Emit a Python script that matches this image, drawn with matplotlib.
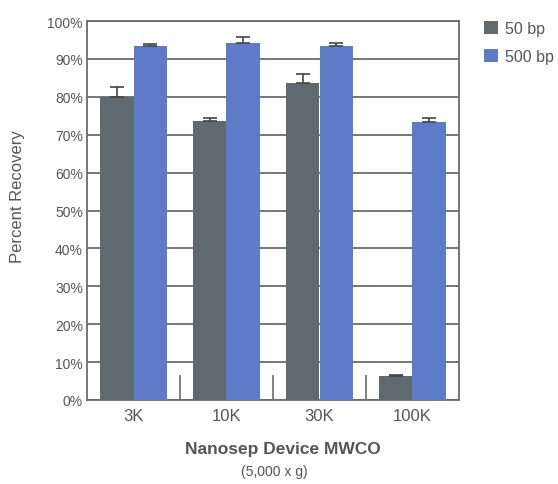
import numpy as np
import matplotlib
matplotlib.use("Agg")
import matplotlib.pyplot as plt
from matplotlib.ticker import FixedLocator, PercentFormatter

plt.rcParams['font.family'] = ['Liberation Sans', 'DejaVu Sans']

# data
categories = ['3K', '10K', '30K', '100K']
rec_50 = [80.0, 73.5, 83.6, 6.4]
err_50 = [2.5, 1.0, 2.5, 0.3]
rec_500 = [93.3, 94.3, 93.3, 73.4]
err_500 = [0.5, 1.5, 1.0, 1.1]
series_names = ['50 bp', '500 bp']

c_dark = '#5e6a6d'
c_blue = '#5d7bc6'
txt = '#555555'
line_c = '#6b6b6b'

fig = plt.figure(figsize=(5.58, 4.85), dpi=100)
ax = fig.add_axes([87/558, 1 - 401/485, 372/558, 379/485])

x = np.arange(len(categories))
w = 0.36
ekw = dict(ecolor='#444444', elinewidth=1.2, capsize=5, capthick=1.2)
b1 = ax.bar(x - w/2, rec_50, w, color=c_dark, zorder=3, label=series_names[0])
b2 = ax.bar(x + w/2, rec_500, w, color=c_blue, zorder=3, label=series_names[1])
ax.errorbar(x - w/2, rec_50, yerr=[np.zeros(4), err_50], fmt='none', zorder=4, **ekw)
ax.errorbar(x + w/2, rec_500, yerr=[np.zeros(4), err_500], fmt='none', zorder=4, **ekw)

ax.set_xlim(-0.5, len(categories) - 0.5)
ax.set_ylim(0, 100)
ax.set_yticks(np.arange(0, 101, 10))
ax.yaxis.set_major_formatter(PercentFormatter(decimals=0))
ax.grid(axis='y', color=line_c, linewidth=1.3, zorder=1)
ax.set_xticks(x)
ax.set_xticklabels(categories)
ax.xaxis.set_minor_locator(FixedLocator(x[:-1] + 0.5))
ax.tick_params(axis='x', which='major', length=0, pad=6, labelsize=12, labelcolor=txt)
ax.tick_params(axis='x', which='minor', direction='in', length=18, width=1.2, color=line_c)
ax.tick_params(axis='y', length=0, pad=3, labelsize=10, labelcolor=txt)
for s in ax.spines.values():
    s.set_color(line_c)
    s.set_linewidth(1.3)

fig.text(18/558, 1 - 197/485, 'Percent Recovery', rotation=90, ha='center', va='center',
         fontsize=12, color=txt)
fig.text(283/558, 1 - 450/485, 'Nanosep Device MWCO', ha='center', va='center',
         fontsize=12.5, fontweight='bold', color=txt)
fig.text(274/558, 1 - 472/485, '(5,000 x g)', ha='center', va='center',
         fontsize=10, color=txt)

fig.legend(handles=[b1, b2], loc='upper left', bbox_to_anchor=(484/558, 1 - 22/485),
           frameon=False, fontsize=11.5, handlelength=0.85, handleheight=0.9,
           handletextpad=0.45, labelspacing=0.8, borderpad=0, borderaxespad=0,
           labelcolor=txt)

fig.savefig('out.png', dpi=100)
